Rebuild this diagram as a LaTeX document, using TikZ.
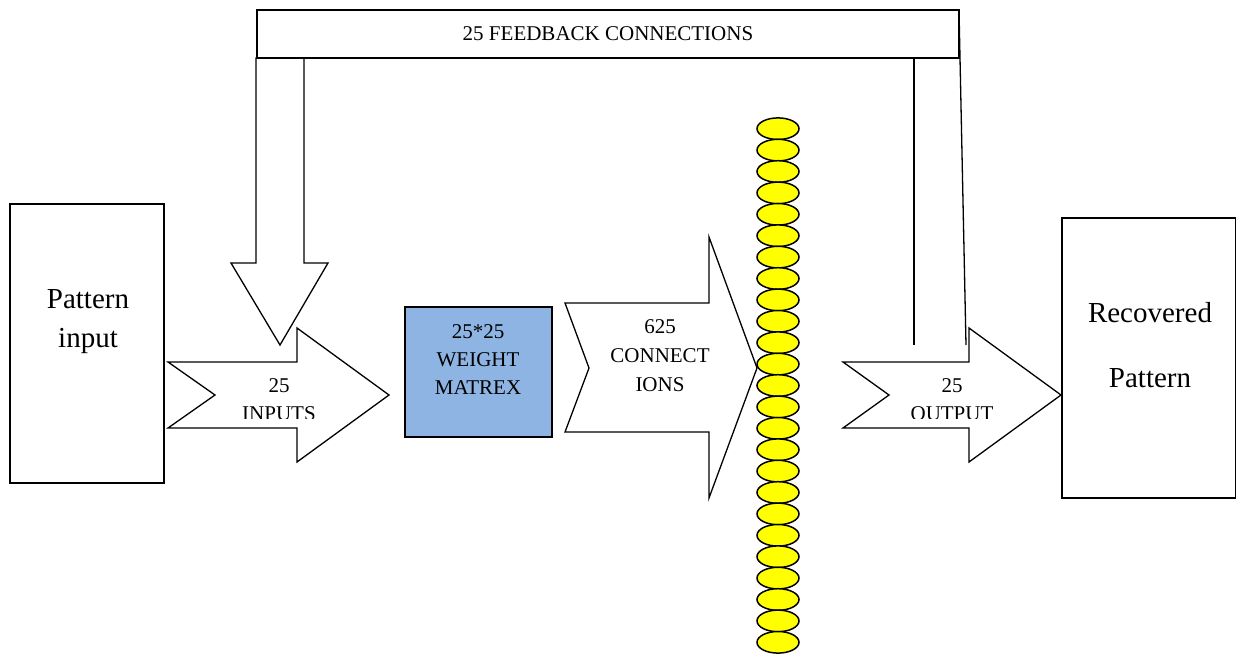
\documentclass[tikz,border=0pt]{standalone}
\usepackage{fontspec}
\setmainfont{Liberation Serif}
\usetikzlibrary{shapes.geometric}
\definecolor{wmblue}{RGB}{142,180,227}
\definecolor{neuronyellow}{RGB}{255,255,0}
\begin{document}
\begin{tikzpicture}[x=1pt,y=-1pt,line width=1.3pt,line join=miter,
  blockarrow/.style={draw=black,fill=white},
  boxstyle/.style={draw=black,fill=white,inner sep=0pt},
  small/.style={font=\fontsize{21}{27.5}\selectfont,inner sep=0pt,anchor=base},
  big/.style={font=\fontsize{29}{36}\selectfont,inner sep=0pt,anchor=base},
  neuron/.style={draw=black,line width=1.5pt,fill=neuronyellow,ellipse,minimum width=42pt,minimum height=21.6pt,inner sep=0pt}]
\useasboundingbox (0,0) rectangle (1237,655);

% Pattern input box
\node[boxstyle,minimum width=154pt,minimum height=279pt] (pin) at (87,343.5) {};
\node[big] (pint1) at (88,308) {Pattern};
\node[big] (pint2) at (88,347) {input};

% Feedback down arrow
\draw[blockarrow] (256,58) -- (304,58) -- (304,263) -- (328,263) -- (280,345) -- (231,263) -- (256,263) -- cycle;
% Feedback bar
\node[boxstyle,minimum width=702pt,minimum height=48pt] (fb) at (608,34) {};
\node[small] (fbt) at (608,41) {25 FEEDBACK CONNECTIONS};

% Input arrow
\draw[blockarrow] (168,362) -- (297,362) -- (297,328) -- (389,395) -- (297,462) -- (297,428) -- (168,428) -- (215,395) -- cycle;
\node[small] (in1) at (279,392) {25};
\begin{scope}
\clip (150,300) rectangle (400,418.5);
\node[small] (in2) at (279,420) {INPUTS};
\end{scope}

% Weight matrix
\node[draw=black,fill=wmblue,minimum width=147pt,minimum height=130pt,inner sep=0pt] (wm) at (478.5,372) {};
\node[small] (wm1) at (478,338) {25*25};
\node[small] (wm2) at (478,366) {WEIGHT};
\node[small] (wm3) at (478,394) {MATREX};

% Connections arrow
\draw[blockarrow] (565,303) -- (709,303) -- (709,237) -- (757,368) -- (709,498) -- (709,432) -- (565,432) -- (589,368) -- cycle;
\node[small] (c1) at (660,333) {625};
\node[small] (c2) at (660,362) {CONNECT};
\node[small] (c3) at (660,391) {IONS};

% Neurons
\foreach \i in {1,...,25} {
  \node[neuron] (n\i) at (778,{128.7+(\i-1)*21.4}) {};
}

% Output arrow
\draw[blockarrow] (843,362) -- (969,362) -- (969,328) -- (1061,395) -- (969,462) -- (969,428) -- (843,428) -- (889,395) -- cycle;
\node[small] (o1) at (952,392) {25};
\begin{scope}
\clip (830,300) rectangle (1070,418.5);
\node[small] (o2) at (952,420) {OUTPUT};
\end{scope}

% Feedback lines on the right
\coordinate (fl1) at (914,58);
\coordinate (fl2) at (914,345);
\coordinate (fr1) at (959,10);
\coordinate (fr2) at (966,345);
\draw (fl1) -- (fl2);
\draw (fr1) -- (fr2);

% Recovered pattern box
\node[boxstyle,minimum width=173.5pt,minimum height=280pt] (rp) at (1148.75,358) {};
\node[big] (rp1) at (1150,322) {Recovered};
\node[big] (rp2) at (1150,387) {Pattern};
\end{tikzpicture}
\end{document}
